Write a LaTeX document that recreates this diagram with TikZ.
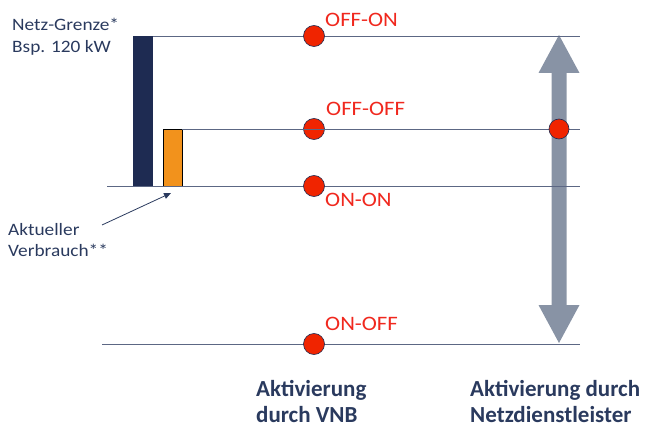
\documentclass[tikz,border=0pt]{standalone}
\usepackage{fontspec}
\setmainfont{Carlito}
\newfontfamily\widefont[FakeStretch=1.11]{Carlito}
\usetikzlibrary{arrows.meta}
\definecolor{navy}{HTML}{1E2B52}
\definecolor{txtnavy}{HTML}{2A3A5E}
\definecolor{lgray}{HTML}{5C6784}
\definecolor{orng}{HTML}{F2921C}
\definecolor{dotred}{HTML}{F02400}
\definecolor{txtred}{HTML}{F0281E}
\definecolor{arrgray}{HTML}{8893A5}
\tikzset{
  hline/.style={draw=lgray, line width=0.9pt},
  dot/.style={circle, fill=dotred, draw=navy, line width=0.6pt, minimum size=21pt, inner sep=0pt},
  state/.style={anchor=base west, inner sep=0pt, text=txtred, font=\widefont\fontsize{20.5}{20.5}\selectfont},
  lbl/.style={anchor=base west, inner sep=0pt, text=txtnavy, font=\widefont\fontsize{17.4}{17.4}\selectfont},
  blbl/.style={anchor=base west, inner sep=0pt, text=txtnavy, font=\fontsize{23}{23}\selectfont\bfseries},
}
\begin{document}
\begin{tikzpicture}[x=1pt,y=-1pt]
\useasboundingbox (0,0) rectangle (649,428);
% lines
\coordinate (t0) at (153,36);   \coordinate (t1) at (580,36);
\coordinate (m0) at (182,129);  \coordinate (m1) at (580,129);
\coordinate (b0) at (107,186);  \coordinate (b1) at (580,186);
\coordinate (l0) at (102,344);  \coordinate (l1) at (580,344);
% bars
\fill[navy] (133,36) rectangle (153,186);
\filldraw[fill=orng, draw=black, line width=0.7pt] (163,129) rectangle (182,186);
% big double arrow
\coordinate (atop) at (559,35);
\coordinate (abot) at (559,343);
\fill[arrgray] (atop) -- (579.5,73) -- (566.5,73) -- (566.5,305) -- (579.5,305) -- (abot) -- (538.5,305) -- (551.5,305) -- (551.5,73) -- (538.5,73) -- cycle;
\draw[hline] (t0) -- (t1);
\draw[hline] (b0) -- (b1);
\draw[hline] (l0) -- (l1);
% dots
\node[dot] (d1) at (314,36) {};
\node[dot] (d2) at (314,129) {};
\draw[hline] (m0) -- (m1);
\node[dot] (d3) at (314,186) {};
\node[dot] (d4) at (314,344) {};
\node[dot, minimum size=20pt] (d5) at (559,129) {};
% state labels
\node[state] (s1) at (325,27) {OFF-ON};
\node[state] (s2) at (326,116) {OFF-OFF};
\node[state] (s3) at (325,206.7) {ON-ON};
\node[state] (s4) at (325,330) {ON-OFF};
% left labels
\node[lbl] (ng1) at (12,30.7) {Netz-Grenze*};
\node[lbl] (ng2) at (12,52.7) {Bsp. 120 kW};
\node[lbl] (av1) at (8,235.7) {Aktueller};
\node[lbl] (av2) at (8,256.7) {Verbrauch**};
\coordinate (avtip) at (171,193);
\draw[txtnavy, line width=0.8pt, -{Triangle[length=7pt,width=6pt]}] (102,225) -- (avtip);
% bottom labels
\node[blbl] (vnb1) at (256,396.7) {Aktivierung};
\node[blbl] (vnb2) at (256,422.3) {durch VNB};
\node[blbl] (nd1) at (470,396.7) {Aktivierung durch};
\node[blbl] (nd2) at (470,422.3) {Netzdienstleister};
\end{tikzpicture}
\end{document}
